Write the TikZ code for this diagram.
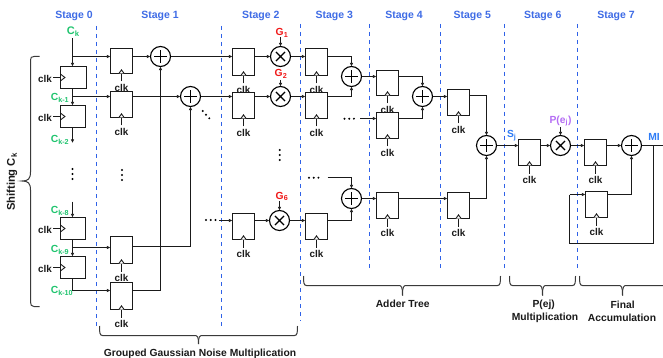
\documentclass[tikz,border=0pt]{standalone}
\usepackage{fontspec}
\setmainfont{Liberation Sans}
\usetikzlibrary{arrows.meta,calc}
\definecolor{stageblue}{HTML}{3F6CE6}
\definecolor{dashblue}{HTML}{2F62E8}
\definecolor{cgreen}{HTML}{1FC46E}
\definecolor{gred}{HTML}{F01818}
\definecolor{ppurple}{HTML}{B56EF5}
\definecolor{sblue}{HTML}{2E7CF6}
\definecolor{linek}{HTML}{1A1A1A}
\definecolor{bracek}{HTML}{3A3A3A}
\tikzset{
  ff/.style={draw=linek,line width=1pt,inner sep=0pt,outer sep=0pt},
  tri/.style={draw=linek,line width=0.9pt,fill=white,line join=miter},
  wire/.style={draw=linek,line width=1pt},
  awire/.style={wire,-{Latex[length=3.6pt,width=3.6pt]}},
  clklab/.style={inner sep=0pt,font=\fontsize{9.9}{11}\bfseries,text=linek},
  stagelab/.style={inner sep=0pt,font=\fontsize{10.5}{12}\bfseries,text=stageblue},
  stagedash/.style={draw=dashblue,line width=1pt,dash pattern=on 4pt off 4pt},
  ck/.style={inner sep=0pt,font=\fontsize{10.3}{12}\bfseries,text=cgreen},
  gl/.style={inner sep=0pt,font=\fontsize{10.3}{12}\bfseries,text=gred},
  bracel/.style={draw=bracek,line width=1pt},
  blab/.style={inner sep=0pt,font=\fontsize{10.3}{12}\bfseries,text=linek},
  addr/.style={circle,draw=black,line width=1.1pt,minimum size=20pt,inner sep=0pt,outer sep=0pt,fill=white,
    path picture={\draw[black,line width=1.5pt]
      ($(path picture bounding box.center)+(-6.2,0)$) -- ($(path picture bounding box.center)+(6.2,0)$)
      ($(path picture bounding box.center)+(0,-6.2)$) -- ($(path picture bounding box.center)+(0,6.2)$);}},
  mult/.style={circle,draw=black,line width=1.1pt,minimum size=20pt,inner sep=0pt,outer sep=0pt,fill=white,
    path picture={\draw[black,line width=1.1pt]
      ($(path picture bounding box.center)+(-4.6,-4.6)$) -- ($(path picture bounding box.center)+(4.6,4.6)$)
      ($(path picture bounding box.center)+(-4.6,4.6)$) -- ($(path picture bounding box.center)+(4.6,-4.6)$);}},
}
% flop with clock at the bottom: name,x1,y1,x2,y2,pin y
\newcommand{\bflop}[6]{%
  \node[ff,minimum width={(#4-#2)*1pt},minimum height={(#5-#3)*1pt}] (#1) at ({(#2+#4)/2},{(#3+#5)/2}) {};
  \coordinate (#1i) at (#2,#6);
  \coordinate (#1o) at (#4,#6);
  \node[clklab] (#1c) at ({(#2+#4)/2},{#5+14}) {clk};
  \coordinate (#1cb) at ({(#2+#4)/2},{#5+8});
  \coordinate (#1ct) at ({(#2+#4)/2},{#5});
  \draw[wire] (#1cb) -- (#1ct);
  \draw[tri] ($(#1ct)+(-2.6,0)$) -- ($(#1ct)+(0,-3.6)$) -- ($(#1ct)+(2.6,0)$);
}
% flop with clock on the left
\newcommand{\sflop}[5]{%
  \node[ff,minimum width={(#4-#2)*1pt},minimum height={(#5-#3)*1pt}] (#1) at ({(#2+#4)/2},{(#3+#5)/2}) {};
  \node[clklab] (#1c) at ({#2-15.5},{(#3+#5)/2+1.4}) {clk};
  \coordinate (#1cl) at (#2,{(#3+#5)/2});
  \draw[wire] (#1c.east |- #1cl) ++(1,0) -- (#1cl);
  \draw[tri] ($(#1cl)+(0,-3.4)$) -- ($(#1cl)+(4.4,0)$) -- ($(#1cl)+(0,3.4)$) -- cycle;
}
% bottom brace: x1,tip x,x2,y top,y mid,y tip
\newcommand{\hbrace}[6]{%
  \draw[bracel] (#1,#4) .. controls (#1,{#5-3}) and ({#1+0.2},#5) .. ({#1+3},#5) -- ({#2-4},#5)
    .. controls ({#2-1},#5) and (#2,{#5+1}) .. (#2,#6);
  \draw[bracel] (#3,#4) .. controls (#3,{#5-3}) and ({#3-0.2},#5) .. ({#3-3},#5) -- ({#2+4},#5)
    .. controls ({#2+1},#5) and (#2,{#5+1}) .. (#2,#6);
}
\newcommand{\vdotsat}[3]{\fill[black] (#1,#2) circle (1.1pt) (#1,{#2+#3}) circle (1.1pt) (#1,{#2+2*#3}) circle (1.1pt);}
\newcommand{\hdotsat}[3]{\fill[black] (#1,#2) circle (1.1pt) ({#1+#3},#2) circle (1.1pt) ({#1+2*#3},#2) circle (1.1pt);}
\begin{document}
\begin{tikzpicture}[x=1pt,y=-1pt]
\useasboundingbox (0,0) rectangle (663,358);
\fill[white] (0,0) rectangle (663,358);
% stage labels
\node[stagelab] (s0) at (74,16) {Stage 0};
\node[stagelab] (s1) at (160,16) {Stage 1};
\node[stagelab] (s2) at (260.7,16) {Stage 2};
\node[stagelab] (s3) at (334.3,16) {Stage 3};
\node[stagelab] (s4) at (404,16) {Stage 4};
\node[stagelab] (s5) at (472.3,16) {Stage 5};
\node[stagelab] (s6) at (542.7,16) {Stage 6};
\node[stagelab] (s7) at (616,16) {Stage 7};
% stage separators
\draw[stagedash] (96.5,26) -- (96.5,326);
\draw[stagedash] (221.5,26) -- (221.5,326);
\draw[stagedash] (300.5,24) -- (300.5,321);
\draw[stagedash] (369.5,24) -- (369.5,270);
\draw[stagedash] (440.5,24) -- (440.5,270);
\draw[stagedash] (504.5,24) -- (504.5,270);
\draw[stagedash] (577.5,24) -- (577.5,270);
% stage 0 flops
\sflop{z1}{60.5}{66.5}{86.5}{88.5}
\sflop{z2}{60.5}{105.5}{85.5}{127.5}
\sflop{z3}{60.5}{217.5}{85.5}{239.5}
\sflop{z4}{60.5}{256.5}{85.5}{278.5}
% stage 0 labels
\node[ck,font=\fontsize{11}{12}\bfseries] (ck0) at (73.3,32) {C\textsubscript{k}};
\node[ck] (ck1) at (60,97.7) {C\textsubscript{k-1}};
\node[ck] (ck2) at (60,140) {C\textsubscript{k-2}};
\node[ck] (ck8) at (60,210.7) {C\textsubscript{k-8}};
\node[ck] (ck9) at (60,250.3) {C\textsubscript{k-9}};
\node[ck] (ck10) at (62,291.3) {C\textsubscript{k-10}};
% stage 1
\bflop{a1}{110.5}{48.5}{132.5}{73.5}{56.5}
\bflop{a2}{110.5}{91.5}{132.5}{117.5}{96.5}
\bflop{a3}{110.5}{236.5}{132.5}{263.5}{246.5}
\bflop{a4}{110.5}{282.5}{132.5}{309.5}{290.5}
\node[addr] (p1) at (160.5,56.5) {};
\node[addr] (p2) at (190.5,96.5) {};
% stage 2
\bflop{b1}{232.5}{48.5}{254.5}{75.5}{56.5}
\bflop{b2}{232.5}{92.5}{254.5}{118.5}{96.5}
\bflop{b3}{232.5}{213.5}{254.5}{239.5}{220.5}
\node[mult] (m1) at (280.5,56.5) {};
\node[mult] (m2) at (280.5,96.5) {};
\node[mult] (m3) at (279.5,220.5) {};
\node[gl] (g1) at (282,32.7) {G\textsubscript{1}};
\node[gl] (g2) at (281,74) {G\textsubscript{2}};
\node[gl] (g6) at (282,196.3) {G\textsubscript{6}};
% stage 3
\bflop{c1}{305.5}{48.5}{327.5}{75.5}{56.5}
\bflop{c2}{305.5}{92.5}{327.5}{118.5}{96.5}
\bflop{c3}{305.5}{213.5}{327.5}{239.5}{220.5}
\node[addr] (p3) at (351.5,76.5) {};
\node[addr] (p4) at (351.5,198.5) {};
% stage 4
\bflop{d1}{376.5}{70.5}{398.5}{95.5}{76.5}
\bflop{d2}{376.5}{112.5}{398.5}{138.5}{118.5}
\bflop{d3}{376.5}{192.5}{398.5}{218.5}{198.5}
\node[addr] (p5) at (422.5,96.5) {};
% stage 5
\bflop{e1}{447.5}{89.5}{469.5}{115.5}{95.5}
\bflop{e2}{447.5}{192.5}{469.5}{218.5}{198.5}
\node[addr] (p6) at (486.5,145.5) {};
% stage 6
\bflop{f1}{518.5}{139.5}{540.5}{165.5}{145.5}
\node[mult] (m4) at (560.5,145.5) {};
\node[inner sep=0pt,font=\fontsize{10.3}{12}\bfseries,text=ppurple] (pe) at (560.5,121) {P(e\textsubscript{j})};
\node[inner sep=0pt,font=\fontsize{10.3}{12}\bfseries,text=sblue] (sj) at (511.7,136) {S\textsubscript{j}};
% stage 7
\bflop{h1}{584.5}{139.5}{606.5}{165.5}{145.5}
\bflop{h2}{585.5}{191.5}{607.5}{217.5}{194.5}
\node[addr] (p7) at (631.5,145.5) {};
\node[inner sep=0pt,font=\fontsize{10.3}{12}\bfseries,text=sblue] (mi) at (654,137) {MI};
% free ends
\coordinate (ck0b) at (72.5,38.5);
\coordinate (t1) at (72.5,56.5);
\coordinate (t2) at (72.5,96.5);
\coordinate (t3) at (72.5,247.5);
\coordinate (ck2e) at (72.5,143);
\coordinate (ck8s) at (72.5,201.5);
\coordinate (out) at (663,145.5);
\coordinate (fbx) at (653.5,145.5);
\coordinate (fby) at (653.5,243.5);
\coordinate (fbl) at (569.5,243.5);
\coordinate (fbu) at (569.5,194.5);
% stage 0 wires
\draw[awire] (ck0b) -- (t1) -- (72.5,66.5);
\draw[awire] (t1) -- (a1i);
\draw[awire] (72.5,88.5) -- (72.5,105.5);
\draw[awire] (t2) -- (a2i);
\draw[awire] (72.5,127.5) -- (ck2e);
\draw[awire] (ck8s) -- (72.5,217.5);
\draw[awire] (72.5,239.5) -- (72.5,256.5);
\draw[awire] (t3) -- (110.5,247.5);
\draw[awire] (72.5,278.5) |- (a4i);
% stage 1 wires
\draw[awire] (a1o) -- (p1.west);
\draw[awire] (a2o) -- (p2.west);
\draw[awire] (p1.east) -- (b1i);
\draw[awire] (p2.east) -- (b2i);
\draw[awire] (a3o) -| (p2.south);
\draw[awire] (a4o) -| (p1.south);
% stage 2 wires
\draw[awire] (b1o) -- (m1.west);
\draw[awire] (b2o) -- (m2.west);
\draw[awire] (b3o) -- (m3.west);
\draw[awire] (m1.east) -- (c1i);
\draw[awire] (m2.east) -- (c2i);
\draw[awire] (m3.east) -- (c3i);
\draw[awire] (219,220.5) -- (b3i);
\draw[awire] (m1.north |- 0,37) -- (m1.north);
\draw[awire] (m2.north |- 0,80) -- (m2.north);
\draw[awire] (m3.north |- 0,201) -- (m3.north);
% stage 3 wires
\draw[awire] (c1o) -| (p3.north);
\draw[awire] (c2o) -| (p3.south);
\draw[awire] (c3o) -| (p4.south);
\draw[awire] (327.5,177.5) -| (p4.north);
\draw[awire] (p3.east) -- (d1i);
\draw[awire] (360,118.5) -- (d2i);
\draw[awire] (p4.east) -- (d3i);
% stage 4 wires
\draw[awire] (d1o) -| (p5.north);
\draw[awire] (d2o) -| (p5.south);
\draw[awire] (p5.east) -- (447.5,96.5);
\draw[awire] (d3o) -- (e2i);
% stage 5 wires
\draw[awire] (e1o) -| (p6.north);
\draw[awire] (e2o) -| (p6.south);
\draw[awire] (p6.east) -- (f1i);
% stage 6, 7 wires
\draw[awire] (f1o) -- (m4.west);
\draw[awire] (m4.east) -- (h1i);
\draw[awire] (m4.north |- 0,127) -- (m4.north);
\draw[awire] (h1o) -- (p7.west);
\draw[awire] (h2o) -| (p7.south);
\draw[wire] (p7.east) -- (out);
\draw[wire] (fbx) -- (fby) -- (fbl) -- (fbu);
\draw[awire] (fbu) -- (h2i);
% dots
\vdotsat{72.5}{169}{5}
\vdotsat{122}{170}{5}
\vdotsat{279.7}{150}{5}
\hdotsat{206}{220}{4.7}
\hdotsat{344.5}{118.7}{4.7}
\hdotsat{309}{177.7}{4.7}
\fill[black] (202.7,111) circle (1.1pt) (206,114.7) circle (1.1pt) (209.3,118.3) circle (1.1pt);
% braces
\draw[bracel] (39.5,56.5) -- (34,56.5) .. controls (31.5,56.5) and (30.5,57.5) .. (30.5,60) -- (30.5,172)
  .. controls (30.5,179) and (28,181) .. (22,181) .. controls (28,181) and (30.5,183) .. (30.5,190)
  -- (30.5,302) .. controls (30.5,305) and (31.5,306.5) .. (34,306.5) -- (39.5,306.5);
\node[inner sep=0pt,rotate=90,font=\fontsize{11.2}{12}\bfseries,text=linek] (shift) at (12,182) {Shifting C\textsubscript{k}};
\hbrace{99.5}{198.5}{297.5}{326}{335.5}{344}
\hbrace{303.5}{402.5}{500.5}{276}{285.5}{295.5}
\hbrace{509.5}{542.5}{575.5}{276}{285.5}{295.5}
\draw[bracel] (579.5,276) .. controls (579.5,282.5) and (579.7,285.5) .. (582.5,285.5) -- (618.5,285.5)
  .. controls (621.5,285.5) and (622.5,286.5) .. (622.5,295.5);
\draw[bracel] (663,285.5) -- (626.5,285.5) .. controls (623.5,285.5) and (622.5,286.5) .. (622.5,295.5);
\node[blab] (l1) at (200,354) {Grouped Gaussian Noise Multiplication};
\node[blab] (l2) at (402.7,304) {Adder Tree};
\node[blab] (l3) at (543.7,305.3) {P(ej)};
\node[blab] (l4) at (545,318.3) {Multiplication};
\node[blab] (l5) at (622.7,305.3) {Final};
\node[blab] (l6) at (622,318.3) {Accumulation};
\end{tikzpicture}
\end{document}
